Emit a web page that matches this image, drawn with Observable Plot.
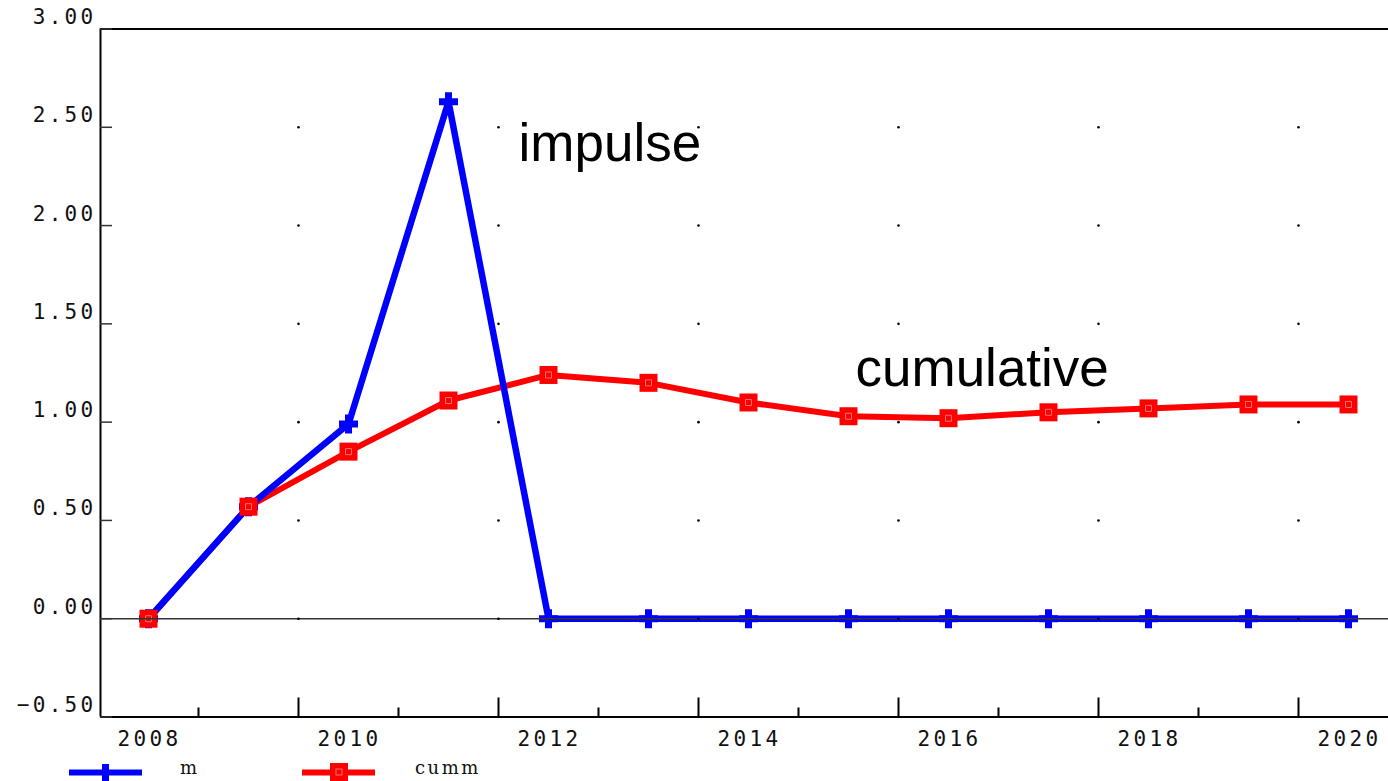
<!DOCTYPE html>
<html>
<head>
<meta charset="utf-8">
<script src="https://cdn.jsdelivr.net/npm/d3@7"></script>
<script src="https://cdn.jsdelivr.net/npm/@observablehq/plot@0.6"></script>
<style>
  html, body { margin: 0; padding: 0; background: #fff; }
  #chart svg { display: block; }
  #chart g[font-family="DejaVu Sans Mono"] { letter-spacing: 3.3px; }
  #legend { position: relative; width: 1388px; height: 29px; }
  #legend svg { display: block; }
</style>
</head>
<body>
<div id="chart"></div>
<div id="legend"></div>
<script>
// ---- data ----
const years = [2008, 2009, 2010, 2011, 2012, 2013, 2014, 2015, 2016, 2017, 2018, 2019, 2020];
const m     = [0, 0.57, 0.99, 2.63, 0, 0, 0, 0, 0, 0, 0, 0, 0];
const cumm  = [0, 0.57, 0.85, 1.11, 1.24, 1.20, 1.10, 1.03, 1.02, 1.05, 1.07, 1.09, 1.09];
const yTicks = [-0.5, 0, 0.5, 1.0, 1.5, 2.0, 2.5, 3.0];
const xLabels = [2008, 2010, 2012, 2014, 2016, 2018, 2020];
const majorXTicks = [2009.5, 2011.5, 2013.5, 2015.5, 2017.5, 2019.5];
const minorXTicks = [2008.5, 2010.5, 2012.5, 2014.5, 2016.5, 2018.5];
const gridY = [0, 0.5, 1.0, 1.5, 2.0, 2.5];
const seriesNames = ["m", "cumm"];

const mData = years.map((y, i) => ({year: y, value: m[i]}));
const cData = years.map((y, i) => ({year: y, value: cumm[i]}));
const gridDots = majorXTicks.flatMap(x => gridY.map(y => ({x, y})));

const X0 = 2007.52, X1 = 2020.52;

// custom symbols
const thickPlus = {
  draw(ctx, size) {
    const a = Math.sqrt(size / Math.PI), t = 3.5;
    ctx.moveTo(-a, -t); ctx.lineTo(-t, -t); ctx.lineTo(-t, -a); ctx.lineTo(t, -a);
    ctx.lineTo(t, -t); ctx.lineTo(a, -t); ctx.lineTo(a, t); ctx.lineTo(t, t);
    ctx.lineTo(t, a); ctx.lineTo(-t, a); ctx.lineTo(-t, t); ctx.lineTo(-a, t);
    ctx.closePath();
  }
};
const sq = {
  draw(ctx, size) {
    const a = Math.sqrt(size / Math.PI);
    ctx.moveTo(-a, -a); ctx.lineTo(a, -a); ctx.lineTo(a, a); ctx.lineTo(-a, a); ctx.closePath();
  }
};

const monoFont = "DejaVu Sans Mono";

const chart = Plot.plot({
  width: 1388,
  height: 752,
  marginLeft: 0, marginRight: 0, marginTop: 0, marginBottom: 0,
  x: {domain: [X0, X1], range: [100, 1400], axis: null},
  y: {domain: [-0.5, 3], range: [716.5, 28.5], axis: null},
  style: {background: "#fff"},
  marks: [
    // frame
    Plot.ruleY([3, -0.5], {x1: X0, x2: X1, stroke: "#000", strokeWidth: 2}),
    Plot.ruleX([X0], {y1: -0.5, y2: 3, stroke: "#000", strokeWidth: 2}),
    Plot.ruleX([X1], {y1: -0.5, y2: 3, stroke: "#000", strokeWidth: 2}),
    // y ticks (inward, left and right)
    Plot.ruleY(yTicks, {x1: X0, x2: X0 + 0.12, stroke: "#333", strokeWidth: 1.5}),
    Plot.ruleY(yTicks, {x1: X1 - 0.12, x2: X1, stroke: "#333", strokeWidth: 1.5}),
    // x ticks (upward)
    Plot.ruleX(majorXTicks, {y1: -0.5, y2: -0.5 + 19 / 196.5, stroke: "#000", strokeWidth: 2}),
    Plot.ruleX(minorXTicks, {y1: -0.5, y2: -0.5 + 9 / 196.5, stroke: "#000", strokeWidth: 2}),
    // y labels
    Plot.text(yTicks, {y: d => d, x: X0, dx: -4, dy: -5, text: d => d3.format(".2f")(d).replace("-", "\u2212"),
      textAnchor: "end", lineAnchor: "bottom", fontFamily: monoFont, fontSize: 21, fill: "#111"}),
    // x labels
    Plot.text(xLabels, {x: d => d, y: -0.5, dy: 29, dx: 1, text: d => String(d),
      textAnchor: "middle", lineAnchor: "bottom", fontFamily: monoFont, fontSize: 21, fill: "#111"}),
    // series
    Plot.line(cData, {x: "year", y: "value", stroke: "#ff0000", strokeWidth: 6}),
    Plot.line(mData, {x: "year", y: "value", stroke: "#0000ff", strokeWidth: 6.5}),
    Plot.dot(mData, {x: "year", y: "value", symbol: thickPlus, r: 9.5, fill: "#0000ff", stroke: "none"}),
    Plot.dot(cData, {x: "year", y: "value", symbol: sq, r: 9, fill: "#ff0000", stroke: "none"}),
    Plot.dot(cData, {x: "year", y: "value", symbol: sq, r: 3, fill: "none", stroke: "#ff7070", strokeWidth: 1}),
    // zero line and grid dots on top
    Plot.ruleY([0], {x1: X0, x2: X1, stroke: "#333", strokeWidth: 1.5}),
    Plot.dot(gridDots, {x: "x", y: "y", r: 1.3, fill: "#000", stroke: "none"}),
    // annotations
    Plot.text(["impulse"], {x: 2011.70, y: 2.33, text: d => d, textAnchor: "start", lineAnchor: "bottom",
      fontFamily: "Liberation Sans, Arial, sans-serif", fontSize: 53, fill: "#000"}),
    Plot.text(["cumulative"], {x: 2015.07, y: 1.184, text: d => d, textAnchor: "start", lineAnchor: "bottom",
      fontFamily: "Liberation Sans, Arial, sans-serif", fontSize: 53, fill: "#000"})
  ]
});
document.getElementById("chart").appendChild(chart);

// ---- legend (below the SVG) ----
const leg = d3.select("#legend").append("svg").attr("width", 1388).attr("height", 29);
const legItems = [
  {name: seriesNames[0], color: "#0000ff", x0: 69, x1: 142, mx: 105.5, tx: 180, kind: "plus"},
  {name: seriesNames[1], color: "#ff0000", x0: 302, x1: 375, mx: 339, tx: 415, kind: "square"}
];
legItems.forEach(it => {
  leg.append("line").attr("x1", it.x0).attr("x2", it.x1).attr("y1", 20.5).attr("y2", 20.5)
    .attr("stroke", it.color).attr("stroke-width", 6);
  if (it.kind === "plus") {
    leg.append("rect").attr("x", it.mx - 3.5).attr("y", 12).attr("width", 7).attr("height", 18).attr("fill", it.color);
  } else {
    leg.append("rect").attr("x", it.mx - 9).attr("y", 11).attr("width", 18).attr("height", 18).attr("fill", it.color);
    leg.append("rect").attr("x", it.mx - 3).attr("y", 17).attr("width", 6).attr("height", 6)
      .attr("fill", "none").attr("stroke", "#ff7070").attr("stroke-width", 1);
  }
  leg.append("text").attr("x", it.tx).attr("y", 22).attr("font-family", "DejaVu Serif, serif")
    .attr("font-size", 18).attr("letter-spacing", "2.5px").attr("fill", "#111").text(it.name);
});
</script>
</body>
</html>
